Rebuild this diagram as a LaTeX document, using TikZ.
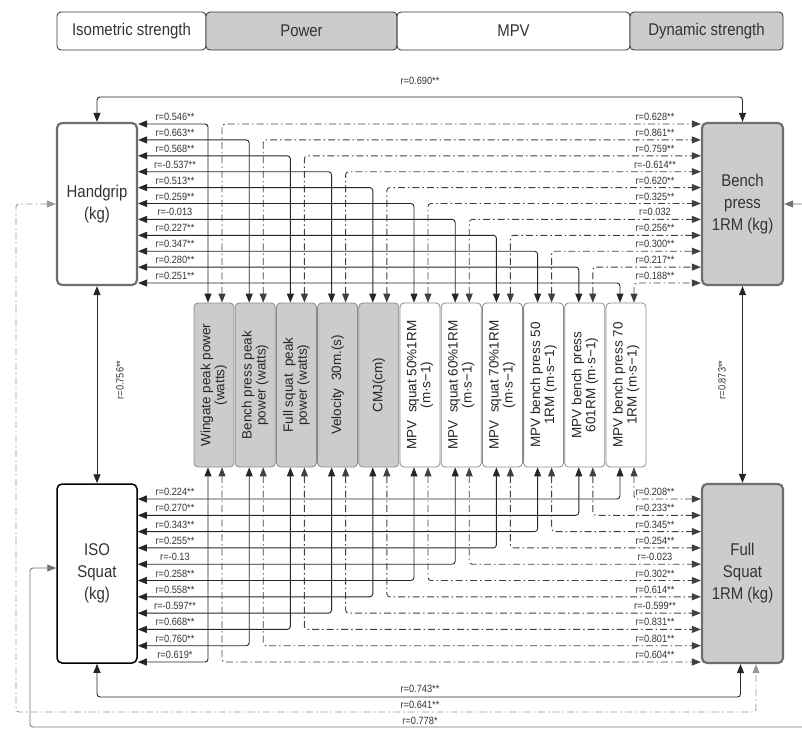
\documentclass[tikz,border=0pt]{standalone}
\usepackage{fontspec}
\setmainfont{Liberation Sans}
\newfontfamily\narrowfont[FakeStretch=0.88]{Liberation Sans}
\usetikzlibrary{arrows.meta, calc}
\definecolor{boxgrey}{HTML}{CCCCCC}
\definecolor{edge}{HTML}{6E6E6E}
\definecolor{ink}{HTML}{333333}

\begin{document}
\begin{tikzpicture}[x=1pt, y=-1pt,
  legend/.style={rectangle, draw=ink, line width=0.8pt, rounded corners=4pt, minimum height=38pt, font=\narrowfont\fontsize{17}{20}\selectfont, text=ink},
  var/.style={rectangle, draw=edge, line width=2.2pt, rounded corners=5pt, minimum width=80pt, align=center, font=\narrowfont\fontsize{17}{22}\selectfont, text=ink},
  vbox/.style={rectangle, draw=edge!80, line width=0.8pt, rounded corners=4pt, minimum width=40pt, minimum height=164pt},
  vtext/.style={rotate=90, align=center, font=\fontsize{13.5}{14}\selectfont, text=black!85},
  link/.style={{Triangle[length=9pt,width=7pt]}-{Triangle[length=9pt,width=7pt]}, line width=0.9pt, draw=black!85, rounded corners=3pt},
  dlink/.style={link, draw=black!75, dash pattern=on 7pt off 3pt on 1.5pt off 3pt},
  rlab/.style={anchor=base, inner sep=0pt, font=\narrowfont\fontsize{10.5}{11}\selectfont, text=ink}
]
\useasboundingbox (0,0) rectangle (802,729);

% legend
\node[legend, minimum width=149pt] (leg1) at (131.5,31) {Isometric strength};
\node[legend, minimum width=191pt, fill=boxgrey] (leg2) at (301.5,31) {Power};
\node[legend, minimum width=233pt] (leg3) at (513.5,31) {MPV};
\node[legend, minimum width=153pt, fill=boxgrey] (leg4) at (706.5,31) {Dynamic strength};

% strength variables
\node[var, minimum height=162pt] (hand) at (97,204) {Handgrip\\(kg)};
\node[var, minimum height=162pt, minimum width=81pt, fill=boxgrey] (bench) at (742.5,204) {Bench\\press\\1RM (kg)};
\node[var, minimum height=179pt, draw=black, line width=1.5pt] (iso) at (97,573.5) {ISO\\Squat\\(kg)};
\node[var, minimum height=179pt, minimum width=81pt, fill=boxgrey] (full) at (742.5,573.5) {Full\\Squat\\1RM (kg)};

% power and MPV variables
\foreach \txt/\fil [count=\k from 0] in {%
  {Wingate peak power\\(watts)}/boxgrey,
  {Bench press peak\\power (watts)}/boxgrey,
  {Full squat \ peak\\power (watts)}/boxgrey,
  {Velocity \ 30m.(s)}/boxgrey,
  {CMJ(cm)}/boxgrey,
  {MPV \ squat 50\%1RM\\(m·s−1)}/white,
  {MPV \ squat 60\%1RM\\(m·s−1)}/white,
  {MPV \ squat 70\%1RM\\(m·s−1)}/white,
  {MPV bench press 50\\1RM (m·s−1)}/white,
  {MPV bench press\\601RM (m·s−1)}/white,
  {MPV bench press 70\\1RM (m·s−1)}/white}
{
  \pgfmathsetmacro\cx{214+41.2*\k}
  \node[vbox, fill=\fil] (b\k) at (\cx,385) {};
  \node[vtext] at (b\k) {\txt};
}

% correlations with handgrip and bench press
\foreach \hl/\bl [count=\k from 0] in {0.546**/0.628**, 0.663**/0.861**, 0.568**/0.759**,
  -0.537**/-0.614**, 0.513**/0.620**, 0.259**/0.325**, -0.013/0.032, 0.227**/0.256**,
  0.347**/0.300**, 0.280**/0.217**, 0.251**/0.188**}
{
  \pgfmathsetmacro\y{124+15.9*\k}
  \draw[link] ([xshift=-6pt]b\k.north) |- (hand.east |- 0,\y);
  \draw[dlink] ([xshift=8pt]b\k.north) |- (bench.west |- 0,\y);
  \node[rlab] at (175,{\y-3.5}) {r=\hl};
  \node[rlab] at (655,{\y-3.5}) {r=\bl};
}

% correlations with ISO squat and full squat
\foreach \il/\fl [count=\j from 0] in {0.224**/0.208**, 0.270**/0.233**, 0.343**/0.345**,
  0.255**/0.254**, -0.13/-0.023, 0.258**/0.302**, 0.558**/0.614**, -0.597**/-0.599**,
  0.668**/0.831**, 0.760**/0.801**, 0.619*/0.604**}
{
  \pgfmathsetmacro\y{499+16.3*\j}
  \pgfmathtruncatemacro\k{10-\j}
  \draw[link] ([xshift=-6pt]b\k.south) |- (iso.east |- 0,\y);
  \draw[dlink] ([xshift=8pt]b\k.south) |- (full.west |- 0,\y);
  \node[rlab] at (175,{\y-3.5}) {r=\il};
  \node[rlab] at (655,{\y-3.5}) {r=\fl};
}

% strength to strength
\draw[link] (hand.north) -- (hand.north |- 0,97) -| (bench.north);
\node[rlab, anchor=center] at (420,81) {r=0.690**};
\draw[link] (hand.south) -- (iso.north);
\node[rlab, anchor=center, rotate=90] at (120,380) {r=0.756**};
\draw[link] (bench.south) -- (full.north);
\node[rlab, anchor=center, rotate=90] at (722,380) {r=0.873**};
\draw[link] (iso.south) -- (iso.south |- 0,697) -| ([xshift=-2pt]full.south);
\node[rlab, anchor=center] at (420,689) {r=0.743**};
\draw[dlink, draw=black!40] (hand.west) -| (16,712) -| ([xshift=13.5pt]full.south);
\node[rlab, anchor=center] at (420,705) {r=0.641**};
\draw[link, draw=black!55] ([yshift=5.5pt]iso.west) -| (30,727) -| (805,204) -- (bench.east);
\node[rlab, anchor=center] at (420,721) {r=0.778*};
\end{tikzpicture}
\end{document}
